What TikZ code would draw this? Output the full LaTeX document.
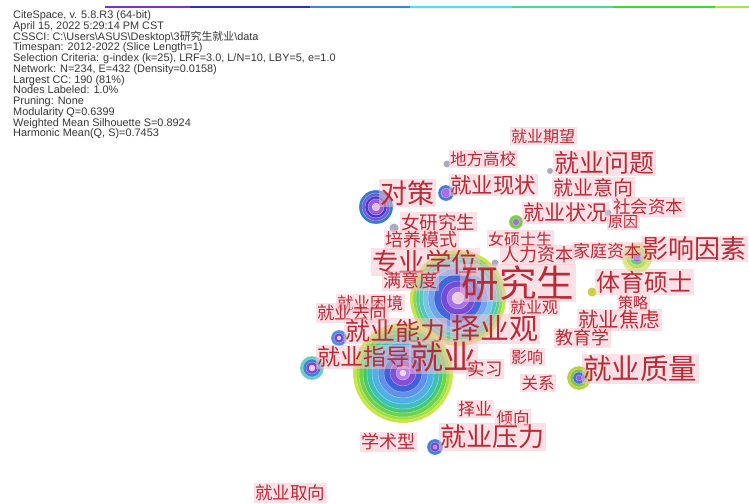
\documentclass[tikz,border=0pt]{standalone}
\usepackage{fontspec}
\setmainfont{Liberation Sans}
\newfontfamily\cjk{Noto Sans CJK SC}
\definecolor{labred}{RGB}{184,42,55}
\definecolor{labpink}{RGB}{248,196,204}
\definecolor{hdr}{RGB}{55,55,55}
\definecolor{dotgrey}{RGB}{168,174,192}
\newcommand\myrings[2]{\foreach \rr/\cc in {#2}{\fill[fill=\cc] (#1) circle (\rr); \draw[white,opacity=.45,line width=.5pt] (#1) circle (\rr);}}
\tikzset{
  lab/.style={fill=labpink, fill opacity=.5, text opacity=1, text=labred, inner sep=1.5pt, font=\cjk\fontsize{#1}{#1}\selectfont},
  hd/.style={anchor=base west, inner sep=0pt, text=hdr, font=\fontsize{10.9}{11}\selectfont},
  anchorpt/.style={circle, inner sep=0pt, minimum size=#1}
}
\begin{document}
\begin{tikzpicture}[x=1pt,y=-1pt]
\useasboundingbox (0,0) rectangle (749,503);
\fill[white] (0,0) rectangle (749,503);
% time colour bar
\foreach \xa/\xb/\cc in {105/190/{rgb,255:red,120;green,50;blue,210},190/310/{rgb,255:red,50;green,45;blue,195},310/410/{rgb,255:red,60;green,130;blue,230},410/512/{rgb,255:red,70;green,230;blue,240},512/613/{rgb,255:red,70;green,220;blue,150},613/715/{rgb,255:red,60;green,220;blue,40},715/749/{rgb,255:red,165;green,230;blue,60}}
  {\fill[fill=\cc] (\xa,6.5) rectangle (\xb,8.5);}
% header
\node[hd] (h1) at (13,18.8) {CiteSpace, v. 5.8.R3 (64-bit)};
\node[hd] (h2) at (13,29.5) {April 15, 2022 5:29:14 PM CST};
\node[hd] (h3) at (13,40.2) {CSSCI: C:\textbackslash Users\textbackslash ASUS\textbackslash Desktop\textbackslash 3{\cjk 研究生就业}\textbackslash data};
\node[hd] (h4) at (13,51.0) {Timespan: 2012-2022 (Slice Length=1)};
\node[hd] (h5) at (13,61.7) {Selection Criteria: g-index (k=25), LRF=3.0, L/N=10, LBY=5, e=1.0};
\node[hd] (h6) at (13,72.4) {Network: N=234, E=432 (Density=0.0158)};
\node[hd] (h7) at (13,83.2) {Largest CC: 190 (81\%)};
\node[hd] (h8) at (13,93.9) {Nodes Labeled: 1.0\%};
\node[hd] (h9) at (13,104.6) {Pruning: None};
\node[hd] (h10) at (13,115.3) {Modularity Q=0.6399};
\node[hd] (h11) at (13,126.1) {Weighted Mean Silhouette S=0.8924};
\node[hd] (h12) at (13,136.8) {Harmonic Mean(Q, S)=0.7453};
% network nodes (concentric rings)
\myrings{458,298}{48/{rgb,255:red,205;green,225;blue,70},45/{rgb,255:red,140;green,215;blue,80},42/{rgb,255:red,90;green,205;blue,130},39/{rgb,255:red,80;green,200;blue,190},35/{rgb,255:red,120;green,195;blue,235},30/{rgb,255:red,110;green,165;blue,235},24/{rgb,255:red,70;green,100;blue,220},17/{rgb,255:red,120;green,75;blue,215},11/{rgb,255:red,170;green,115;blue,225},6/{rgb,255:red,235;green,205;blue,232}}
\node[anchorpt=96] (nYJS) at (458,298) {};
\myrings{403,373}{50/{rgb,255:red,200;green,228;blue,65},47/{rgb,255:red,160;green,222;blue,60},44/{rgb,255:red,110;green,210;blue,70},40/{rgb,255:red,70;green,200;blue,115},36/{rgb,255:red,60;green,192;blue,185},31/{rgb,255:red,80;green,175;blue,228},25/{rgb,255:red,95;green,145;blue,230},19/{rgb,255:red,65;green,95;blue,215},13/{rgb,255:red,130;green,80;blue,215},7/{rgb,255:red,185;green,130;blue,230},3/{rgb,255:red,240;green,215;blue,235}}
\node[anchorpt=100] (nJY) at (403,373) {};
\myrings{376,207}{17/{rgb,255:red,50;green,120;blue,205},14/{rgb,255:red,110;green,90;blue,215},11/{rgb,255:red,70;green,60;blue,200},8/{rgb,255:red,150;green,90;blue,220},4/{rgb,255:red,230;green,190;blue,220}}
\node[anchorpt=34] (nDC) at (376,207) {};
\myrings{312,368}{12/{rgb,255:red,100;green,205;blue,190},9/{rgb,255:red,60;green,130;blue,220},6/{rgb,255:red,120;green,70;blue,210},3/{rgb,255:red,235;green,205;blue,232}}
\node[anchorpt=24] (nJYZD) at (312,368) {};
\myrings{339,338}{8/{rgb,255:red,80;green,140;blue,215},5/{rgb,255:red,110;green,70;blue,210},2/{rgb,255:red,230;green,200;blue,230}}
\node[anchorpt=16] (nJYNL) at (339,338) {};
\myrings{446,193}{8/{rgb,255:red,70;green,120;blue,215},5/{rgb,255:red,170;green,110;blue,225}}
\node[anchorpt=16] (nJYXZ) at (446,193) {};
\myrings{516,222}{7/{rgb,255:red,120;green,205;blue,70},3.5/{rgb,255:red,160;green,110;blue,220}}
\node[anchorpt=14] (nJYZK) at (516,222) {};
\myrings{637,258}{15/{rgb,255:red,220;green,230;blue,140},11/{rgb,255:red,185;green,222;blue,90},7/{rgb,255:red,110;green,200;blue,110},4/{rgb,255:red,140;green,90;blue,220}}
\node[anchorpt=30] (nYXYS) at (637,258) {};
\myrings{579,378}{12/{rgb,255:red,195;green,205;blue,60},9/{rgb,255:red,120;green,200;blue,70},6/{rgb,255:red,70;green,110;blue,215},3/{rgb,255:red,160;green,90;blue,220}}
\node[anchorpt=24] (nJYZL) at (579,378) {};
\myrings{435,447}{8/{rgb,255:red,60;green,130;blue,220},5/{rgb,255:red,120;green,70;blue,210},2/{rgb,255:red,220;green,120;blue,220}}
\node[anchorpt=16] (nJYYL) at (435,447) {};
% small nodes
\node[anchorpt=7, fill=dotgrey] (nDFGX) at (447,164) {};
\node[anchorpt=9, fill=dotgrey] (nNYJS) at (394,228) {};
\node[anchorpt=7, fill=dotgrey] (nRLZB) at (495,263) {};
\node[anchorpt=6, fill=dotgrey] (nJYWT) at (550,171) {};
\node[anchorpt=7, fill=dotgrey] (nYY) at (608,213) {};
\node[anchorpt=9, fill={rgb,255:red,200;green,210;blue,70}] (nTYSS) at (592,292) {};
% labels
\node[lab=16] (l1) at (543,136) {就业期望};
\node[lab=16.5] (l2) at (483,159) {地方高校};
\node[lab=25] (l3) at (604,163) {就业问题};
\node[lab=21.5] (l4) at (493,185) {就业现状};
\node[lab=20] (l5) at (593,188) {就业意向};
\node[lab=27] (l6) at (407,193) {对策};
\node[lab=21] (l7) at (565,213) {就业状况};
\node[lab=17.5] (l8) at (648,207) {社会资本};
\node[lab=15] (l9) at (623,222) {原因};
\node[lab=18.5] (l10) at (438,222) {女研究生};
\node[lab=16] (l11) at (520,239) {女硕士生};
\node[lab=18] (l12) at (421,240) {培养模式};
\node[lab=17] (l13) at (607,251) {家庭资本};
\node[lab=26] (l14) at (694,249) {影响因素};
\node[lab=18] (l15) at (537,255) {人力资本};
\node[lab=26.5] (l16) at (425,262) {专业学位};
\node[lab=18] (l17) at (410,281) {满意度};
\node[lab=37.5] (l18) at (518,283) {研究生};
\node[lab=24] (l19) at (644,282) {体育硕士};
\node[lab=15] (l20) at (633,303) {策略};
\node[lab=16.5] (l21) at (370,303) {就业困境};
\node[lab=16] (l22) at (534,307) {就业观};
\node[lab=17.5] (l23) at (352,313) {就业去向};
\node[lab=20.5] (l24) at (619,320) {就业焦虑};
\node[lab=25] (l25) at (395,331) {就业能力};
\node[lab=29] (l26) at (495,329) {择业观};
\node[lab=18] (l27) at (582,338) {教育学};
\node[lab=23] (l28) at (363,357) {就业指导};
\node[lab=33] (l29) at (443,357) {就业};
\node[lab=16] (l30) at (527,357) {影响};
\node[lab=17.5] (l31) at (485,369) {实习};
\node[lab=28.5] (l32) at (640,369) {就业质量};
\node[lab=16.5] (l33) at (538,383) {关系};
\node[lab=17] (l34) at (475,409) {择业};
\node[lab=16.5] (l35) at (513,418) {倾向};
\node[lab=26] (l36) at (492,437) {就业压力};
\node[lab=18] (l37) at (388,442) {学术型};
\node[lab=17.5] (l38) at (290,493) {就业取向};
\end{tikzpicture}
\end{document}
